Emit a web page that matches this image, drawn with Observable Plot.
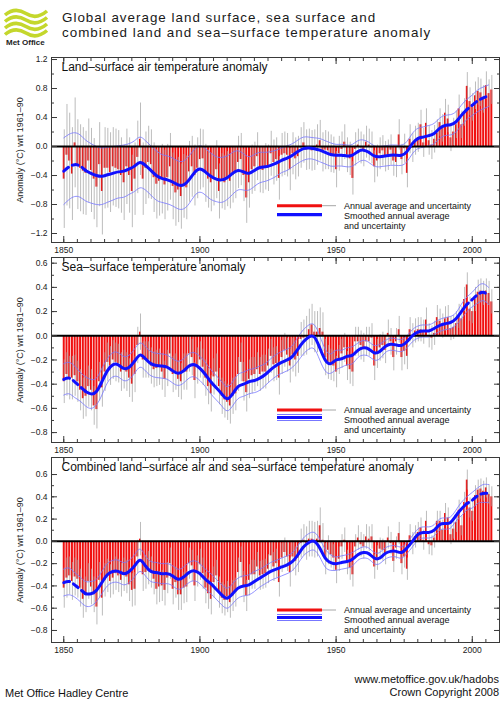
<!DOCTYPE html>
<html><head><meta charset="utf-8">
<script src="https://cdn.jsdelivr.net/npm/d3@7"></script>
<script src="https://cdn.jsdelivr.net/npm/@observablehq/plot@0.6"></script>
<style>
body{margin:0;background:#fff;font-family:"Liberation Sans",Arial,Helvetica,sans-serif;}
#page{position:relative;width:504px;height:708px;overflow:hidden;background:#fff;}
.abs{position:absolute;left:0;}
svg text{font-family:"Liberation Sans",Arial,Helvetica,sans-serif;}
</style></head>
<body><div id="page">
<svg class="abs" style="top:0" width="504" height="52">
  <g fill="none" stroke="#c4d72c" stroke-width="3.6" stroke-linecap="butt">
    <path d="M5,15 C12,9 19,9 26,13.5 S40,17 47,11"/>
    <path d="M5,21.5 C12,15.5 19,15.5 26,20 S40,23.5 47,17.5"/>
    <path d="M5,28 C12,22 19,22 26,26.5 S40,30 47,24"/>
    <path d="M5,34.5 C12,28.5 19,28.5 26,33 S40,36.5 47,30.5"/>
  </g>
  <text x="6" y="45" font-size="8" font-weight="bold" fill="#222">Met Office</text>
  <text x="62" y="22.2" font-size="13.4" letter-spacing="1" fill="#1a1a1a">Global average land surface, sea surface and</text>
  <text x="62" y="37.2" font-size="13.4" letter-spacing="1" fill="#1a1a1a">combined land and sea–surface temperature anomaly</text>
</svg>
<div class="abs" id="p1" style="top:55px"></div>
<div class="abs" id="p2" style="top:255px"></div>
<div class="abs" id="p3" style="top:455px"></div>
<svg class="abs" style="top:660px" width="504" height="48">
  <text x="499" y="23" font-size="11" text-anchor="end" fill="#111">www.metoffice.gov.uk/hadobs</text>
  <text x="499" y="36" font-size="11" text-anchor="end" fill="#111">Crown Copyright 2008</text>
  <text x="5" y="36.5" font-size="11" fill="#111">Met Office Hadley Centre</text>
</svg>
</div>
<script>
// ---------- categories ----------
const years = d3.range(1850, 2008);          // annual values 1850..2007
const smYears = d3.range(1850, 2007, 2);     // smoothed-curve knots 1850..2006
const xMajorTicks = [1850, 1900, 1950, 2000];
const xMinorTicks = [1850,1855,1860,1865,1870,1875,1880,1885,1890,1895,1900,1905,1910,1915,1920,1925,1930,1935,1940,1945,1950,1955,1960,1965,1970,1975,1980,1985,1990,1995,2000,2005];

// ---------- Land-surface air temperature ----------
const landAnom = [
 -0.45,-0.12,-0.20,-0.38,0.05,-0.25,-0.30,-0.34,-0.37,-0.20,
 -0.33,-0.45,-0.56,-0.25,-0.62,-0.30,-0.30,-0.36,-0.28,-0.30,
 -0.32,-0.40,-0.50,-0.28,-0.40,-0.62,-0.45,-0.15,0.10,-0.45,
 -0.30,-0.22,-0.25,-0.43,-0.52,-0.48,-0.45,-0.53,-0.43,-0.28,
 -0.55,-0.64,-0.60,-0.69,-0.55,-0.57,-0.35,-0.28,-0.40,-0.30,
 -0.18,-0.17,-0.37,-0.45,-0.50,-0.42,-0.32,-0.62,-0.48,-0.50,
 -0.45,-0.48,-0.40,-0.36,-0.22,-0.18,-0.40,-0.71,-0.50,-0.32,
 -0.28,-0.14,-0.32,-0.33,-0.28,-0.30,-0.10,-0.22,-0.18,-0.44,
 -0.12,-0.10,-0.12,-0.32,-0.10,-0.17,-0.14,-0.02,0.05,-0.05,
 -0.04,-0.06,-0.05,0.02,0.08,-0.08,-0.05,-0.06,-0.10,-0.12,
 -0.32,-0.10,-0.04,0.06,-0.12,-0.17,-0.44,-0.04,0.02,-0.02,
 -0.06,0.06,0.02,-0.02,-0.28,-0.20,-0.10,-0.06,-0.14,-0.12,
 -0.05,-0.20,-0.22,0.16,-0.18,-0.03,-0.37,0.10,-0.02,0.08,
 0.12,0.30,0.05,0.32,0.08,0.02,0.10,0.18,0.33,0.25,
 0.46,0.38,0.12,0.20,0.30,0.52,0.30,0.47,0.83,0.62,
 0.54,0.70,0.76,0.74,0.65,0.84,0.73,0.78];
const landUnc = [
 .68,.70,.66,.64,.62,.62,.60,.60,.58,.58,
 .58,.56,.56,.58,.60,.56,.55,.55,.54,.54,
 .54,.52,.52,.52,.52,.50,.50,.50,.50,.50,
 .50,.50,.48,.48,.48,.48,.48,.48,.46,.46,
 .46,.46,.45,.45,.44,.44,.42,.42,.42,.42,
 .42,.40,.40,.40,.40,.40,.40,.38,.38,.38,
 .38,.38,.38,.36,.36,.36,.36,.35,.35,.34,
 .34,.33,.32,.32,.32,.32,.31,.31,.30,.30,
 .30,.30,.30,.29,.29,.29,.28,.28,.28,.28,
 .28,.28,.28,.28,.28,.27,.27,.26,.26,.25,
 .25,.24,.24,.24,.24,.23,.23,.23,.22,.22,
 .22,.22,.22,.22,.22,.22,.22,.21,.21,.21,
 .21,.21,.21,.21,.21,.20,.20,.20,.20,.20,
 .20,.20,.20,.20,.20,.20,.19,.19,.19,.19,
 .19,.19,.19,.19,.19,.19,.19,.19,.19,.19,
 .19,.19,.19,.19,.19,.19,.19,.20];
const landSmooth = [
 -0.34,-0.28,-0.25,-0.27,-0.33,
 -0.37,-0.40,-0.41,-0.39,-0.37,-0.35,-0.34,-0.31,-0.27,-0.22,
 -0.26,-0.33,-0.40,-0.44,-0.46,-0.49,-0.53,-0.53,-0.46,-0.36,
 -0.31,-0.35,-0.41,-0.45,-0.46,-0.43,-0.37,-0.33,-0.35,-0.37,
 -0.33,-0.29,-0.28,-0.26,-0.23,-0.19,-0.16,-0.12,-0.07,-0.03,
 -0.02,-0.03,-0.05,-0.08,-0.11,-0.12,-0.12,-0.13,-0.12,-0.07,
 -0.05,-0.08,-0.13,-0.14,-0.13,-0.12,-0.12,-0.12,-0.07,0.04,
 0.11,0.13,0.15,0.18,0.25,0.29,0.30,0.34,0.43,0.51,
 0.57,0.63,0.67,0.70];
const landSmoothUnc = [
 .46,.45,.44,.43,.42,
 .41,.40,.39,.38,.37,.36,.36,.35,.35,.35,
 .34,.34,.34,.33,.33,.33,.33,.33,.33,.32,
 .32,.32,.32,.31,.31,.30,.29,.27,.25,.23,
 .22,.21,.20,.19,.18,.17,.17,.16,.16,.16,
 .15,.15,.16,.16,.16,.15,.15,.15,.15,.15,
 .14,.14,.14,.14,.14,.14,.14,.14,.14,.14,
 .14,.14,.14,.14,.14,.14,.14,.14,.14,.14,
 .14,.15,.15,.15];

// ---------- Sea-surface temperature ----------
const seaAnom = [
 -0.38,-0.32,-0.35,-0.35,-0.33,-0.38,-0.45,-0.52,-0.50,-0.42,
 -0.45,-0.58,-0.61,-0.38,-0.43,-0.30,-0.22,-0.25,-0.20,-0.22,
 -0.23,-0.30,-0.28,-0.30,-0.35,-0.40,-0.32,-0.08,0.03,-0.20,
 -0.20,-0.20,-0.25,-0.28,-0.27,-0.26,-0.30,-0.36,-0.27,-0.15,
 -0.32,-0.30,-0.36,-0.38,-0.30,-0.30,-0.15,-0.18,-0.37,-0.25,
 -0.20,-0.26,-0.35,-0.42,-0.48,-0.34,-0.30,-0.42,-0.50,-0.53,
 -0.55,-0.58,-0.50,-0.48,-0.32,-0.22,-0.38,-0.47,-0.36,-0.33,
 -0.32,-0.28,-0.32,-0.30,-0.30,-0.25,-0.17,-0.24,-0.23,-0.35,
 -0.18,-0.12,-0.16,-0.25,-0.16,-0.20,-0.17,-0.03,-0.02,0.00,
 0.05,0.09,0.03,0.03,0.06,0.03,-0.18,-0.22,-0.24,-0.25,
 -0.30,-0.20,-0.15,-0.10,-0.25,-0.28,-0.30,-0.05,-0.05,-0.08,
 -0.10,-0.05,-0.05,-0.02,-0.25,-0.15,-0.10,-0.08,-0.12,0.02,
 -0.05,-0.18,-0.05,0.05,-0.18,-0.13,-0.17,0.05,0.00,0.04,
 0.05,0.05,0.03,0.13,0.00,-0.02,0.02,0.15,0.12,0.08,
 0.14,0.15,0.06,0.07,0.10,0.16,0.14,0.30,0.42,0.22,
 0.20,0.30,0.36,0.37,0.35,0.37,0.35,0.28];
const seaUnc = [
 .18,.18,.18,.18,.17,.17,.17,.17,.17,.17,
 .17,.16,.16,.16,.16,.16,.16,.16,.16,.16,
 .16,.16,.16,.16,.16,.15,.15,.15,.15,.15,
 .15,.15,.15,.15,.15,.15,.15,.15,.15,.15,
 .15,.15,.15,.15,.15,.15,.15,.15,.15,.15,
 .15,.15,.15,.15,.15,.15,.15,.15,.15,.15,
 .15,.15,.15,.14,.14,.16,.16,.16,.16,.15,
 .14,.14,.14,.14,.14,.14,.14,.14,.14,.14,
 .14,.14,.14,.14,.14,.14,.14,.14,.15,.16,
 .17,.17,.17,.17,.17,.16,.15,.14,.13,.13,
 .13,.12,.12,.12,.12,.12,.12,.12,.12,.12,
 .12,.12,.12,.12,.12,.12,.11,.11,.11,.11,
 .11,.11,.11,.11,.11,.11,.11,.10,.10,.10,
 .10,.10,.10,.10,.10,.10,.10,.10,.10,.10,
 .10,.10,.10,.10,.10,.10,.10,.10,.10,.10,
 .10,.10,.10,.10,.10,.10,.10,.10];
const seaSmooth = [
 -0.36,-0.35,-0.38,-0.42,-0.46,
 -0.48,-0.46,-0.38,-0.29,-0.24,-0.24,-0.27,-0.26,-0.21,-0.16,
 -0.19,-0.23,-0.245,-0.25,-0.26,-0.29,-0.31,-0.29,-0.25,-0.24,
 -0.27,-0.32,-0.38,-0.43,-0.48,-0.52,-0.48,-0.42,-0.40,-0.38,
 -0.37,-0.35,-0.32,-0.28,-0.245,-0.22,-0.20,-0.17,-0.11,-0.05,
 -0.01,-0.01,-0.10,-0.20,-0.23,-0.20,-0.19,-0.17,-0.16,-0.12,
 -0.10,-0.11,-0.14,-0.13,-0.09,-0.07,-0.075,-0.08,-0.05,0.00,
 0.03,0.04,0.04,0.06,0.085,0.10,0.11,0.14,0.20,0.26,
 0.30,0.34,0.36,0.33];
const seaSmoothUnc = [
 .13,.13,.13,.12,.12,
 .12,.11,.11,.10,.10,.10,.10,.10,.10,.10,
 .10,.10,.10,.10,.10,.10,.10,.10,.10,.10,
 .10,.10,.10,.10,.10,.10,.10,.10,.10,.10,
 .10,.10,.09,.09,.09,.09,.09,.09,.10,.10,
 .10,.10,.10,.09,.08,.08,.07,.07,.07,.06,
 .06,.06,.06,.06,.05,.05,.05,.05,.05,.05,
 .05,.05,.05,.05,.05,.05,.05,.05,.06,.06,
 .06,.07,.07,.07];

// ---------- Combined land and sea ----------
const combAnom = [
 -0.42,-0.33,-0.31,-0.36,-0.32,-0.34,-0.42,-0.52,-0.48,-0.36,
 -0.41,-0.48,-0.59,-0.35,-0.51,-0.35,-0.31,-0.36,-0.33,-0.29,
 -0.31,-0.35,-0.30,-0.32,-0.39,-0.44,-0.43,-0.14,0.02,-0.30,
 -0.28,-0.24,-0.28,-0.34,-0.43,-0.41,-0.40,-0.44,-0.33,-0.20,
 -0.43,-0.37,-0.48,-0.48,-0.42,-0.41,-0.20,-0.22,-0.40,-0.27,
 -0.21,-0.29,-0.42,-0.47,-0.52,-0.37,-0.31,-0.46,-0.51,-0.53,
 -0.50,-0.55,-0.49,-0.46,-0.28,-0.19,-0.41,-0.49,-0.35,-0.30,
 -0.30,-0.23,-0.31,-0.30,-0.29,-0.25,-0.13,-0.23,-0.20,-0.37,
 -0.15,-0.10,-0.14,-0.28,-0.14,-0.18,-0.15,-0.02,0.01,-0.02,
 0.02,0.02,0.01,0.02,0.14,0.01,-0.16,-0.08,-0.12,-0.15,
 -0.26,-0.16,-0.05,0.01,-0.19,-0.24,-0.30,-0.05,0.03,-0.03,
 -0.05,0.04,0.02,0.04,-0.23,-0.15,-0.07,-0.08,-0.11,0.03,
 -0.02,-0.18,-0.06,0.07,-0.20,-0.14,-0.25,0.05,-0.02,0.04,
 0.08,0.12,0.01,0.18,-0.03,-0.04,0.03,0.18,0.18,0.10,
 0.25,0.21,0.06,0.11,0.17,0.28,0.14,0.35,0.55,0.30,
 0.27,0.41,0.46,0.47,0.45,0.48,0.42,0.40];
const combUnc = [
 .18,.18,.17,.17,.17,.17,.17,.17,.16,.16,
 .16,.16,.16,.16,.16,.15,.15,.15,.15,.15,
 .15,.15,.15,.15,.15,.15,.15,.15,.15,.15,
 .15,.15,.14,.14,.14,.14,.14,.14,.14,.14,
 .14,.14,.14,.14,.14,.14,.14,.14,.14,.14,
 .14,.14,.14,.14,.14,.14,.14,.14,.14,.14,
 .14,.14,.14,.13,.13,.14,.14,.14,.14,.13,
 .13,.13,.13,.13,.13,.13,.13,.13,.13,.13,
 .13,.13,.13,.13,.13,.13,.13,.13,.14,.15,
 .16,.16,.16,.16,.16,.15,.14,.13,.12,.12,
 .12,.11,.11,.11,.11,.11,.11,.11,.11,.11,
 .11,.11,.11,.11,.11,.11,.10,.10,.10,.10,
 .10,.10,.10,.10,.10,.10,.10,.10,.10,.10,
 .09,.09,.09,.09,.09,.09,.09,.09,.09,.09,
 .09,.09,.09,.09,.09,.09,.09,.09,.09,.09,
 .09,.09,.09,.09,.09,.09,.09,.09];
const combSmooth = [
 -0.37,-0.36,-0.39,-0.43,-0.47,
 -0.47,-0.44,-0.37,-0.30,-0.27,-0.27,-0.29,-0.27,-0.22,-0.17,
 -0.22,-0.27,-0.28,-0.29,-0.29,-0.31,-0.34,-0.32,-0.28,-0.265,
 -0.29,-0.34,-0.38,-0.43,-0.48,-0.51,-0.47,-0.42,-0.40,-0.39,
 -0.36,-0.33,-0.30,-0.27,-0.25,-0.23,-0.21,-0.18,-0.12,-0.05,
 -0.01,0.00,-0.06,-0.15,-0.19,-0.20,-0.19,-0.18,-0.16,-0.12,
 -0.10,-0.11,-0.15,-0.15,-0.11,-0.09,-0.09,-0.10,-0.06,0.00,
 0.06,0.08,0.08,0.10,0.15,0.16,0.17,0.23,0.29,0.34,
 0.37,0.41,0.43,0.43];
const combSmoothUnc = [
 .12,.12,.11,.11,.11,
 .11,.10,.10,.10,.10,.10,.10,.10,.10,.10,
 .09,.09,.09,.09,.09,.09,.09,.09,.09,.09,
 .09,.09,.09,.09,.09,.09,.09,.09,.09,.09,
 .09,.08,.08,.08,.08,.08,.08,.08,.08,.08,
 .08,.08,.08,.08,.07,.06,.06,.06,.06,.05,
 .05,.05,.05,.05,.05,.05,.05,.05,.05,.05,
 .05,.05,.05,.05,.05,.05,.05,.05,.06,.06,
 .07,.07,.08,.08];

// ---------- y tick lists ----------
const landYTicks = [-1.2,-0.8,-0.4,0,0.4,0.8,1.2];
const landYMinor = [-1.2,-1.0,-0.8,-0.6,-0.4,-0.2,0,0.2,0.4,0.6,0.8,1.0,1.2];
const seaYTicks = [-0.8,-0.6,-0.4,-0.2,0,0.2,0.4,0.6];
const seaYMinor = [-0.8,-0.7,-0.6,-0.5,-0.4,-0.3,-0.2,-0.1,0,0.1,0.2,0.3,0.4,0.5,0.6];

const titles = ["Land–surface air temperature anomaly",
                "Sea–surface temperature anomaly",
                "Combined land–surface air and sea–surface temperature anomaly"];
const yLabel = "Anomaly (°C) wrt 1961–90";

const RED = "#f01010", BLUE = "#1010ff", BAND = "#7777ff", GREY = "#a6a6a6", AX = "#3a3a3a";
const FONT = "Liberation Sans, Arial, Helvetica, sans-serif";

function panel(anom, unc, sm, smUnc, domain, yMajor, yMinor, title) {
  const rows = years.map((year, i) => ({year, v: anom[i], e: unc[i]}));
  const srows = smYears.map((year, i) => ({year, v: sm[i], e: smUnc[i]}));
  const seg1 = srows.filter(d => d.year <= 1858);
  const seg2 = srows.filter(d => d.year >= 1858 && d.year <= 1998);
  const seg3 = srows.filter(d => d.year >= 1998);
  const blank = () => "";
  return Plot.plot({
    width: 504, height: 200,
    marginLeft: 51, marginRight: 5, marginTop: 2, marginBottom: 13,
    style: {fontFamily: FONT, fontSize: "8.5px", color: "#1a1a1a", background: "transparent", overflow: "visible"},
    x: {domain: [1845.5, 2010], label: null},
    y: {domain, label: null},
    marks: [
      Plot.ruleX(rows, {x: "year", y1: 0, y2: "v", stroke: RED, strokeWidth: 2}),
      Plot.ruleX(rows, {x: "year", y1: d => d.v - d.e, y2: d => d.v + d.e, stroke: GREY, strokeWidth: 0.75, dx: 0.5}),
      Plot.line(srows, {x: "year", y: d => d.v + d.e, curve: "natural", stroke: BAND, strokeWidth: 0.8}),
      Plot.line(srows, {x: "year", y: d => d.v - d.e, curve: "natural", stroke: BAND, strokeWidth: 0.8}),
      Plot.ruleY([0], {stroke: "#000", strokeWidth: 2}),
      Plot.line(seg1, {x: "year", y: "v", curve: "natural", stroke: BLUE, strokeWidth: 3, strokeDasharray: "6,4.5"}),
      Plot.line(seg2, {x: "year", y: "v", curve: "natural", stroke: BLUE, strokeWidth: 3}),
      Plot.line(seg3, {x: "year", y: "v", curve: "natural", stroke: BLUE, strokeWidth: 3, strokeDasharray: "6,4.5", strokeDashoffset: 4}),
      Plot.frame({stroke: AX, strokeWidth: 1}),
      Plot.axisX({anchor: "bottom", ticks: xMinorTicks, tickSize: -3, tickFormat: blank, label: null, stroke: AX}),
      Plot.axisX({anchor: "bottom", ticks: xMajorTicks, tickSize: -6, tickFormat: blank, label: null, stroke: AX}),
      Plot.axisX({anchor: "top", ticks: xMinorTicks, tickSize: -3, tickFormat: blank, label: null, stroke: AX}),
      Plot.axisX({anchor: "top", ticks: xMajorTicks, tickSize: -6, tickFormat: blank, label: null, stroke: AX}),
      Plot.axisX({anchor: "bottom", ticks: xMajorTicks, tickSize: 0, tickPadding: 4, tickFormat: d => String(d), label: null, fill: "#1a1a1a"}),
      Plot.axisY({anchor: "left", ticks: yMinor, tickSize: -3, tickFormat: blank, label: null, stroke: AX}),
      Plot.axisY({anchor: "left", ticks: yMajor, tickSize: -6, tickFormat: blank, label: null, stroke: AX}),
      Plot.axisY({anchor: "right", ticks: yMinor, tickSize: -3, tickFormat: blank, label: null, stroke: AX}),
      Plot.axisY({anchor: "right", ticks: yMajor, tickSize: -6, tickFormat: blank, label: null, stroke: AX}),
      Plot.axisY({anchor: "left", ticks: yMajor, tickSize: 0, tickPadding: 4, tickFormat: d3.format(".1f"), label: null, fill: "#1a1a1a"}),
      Plot.text([title], {frameAnchor: "top-left", dx: 10, dy: 9.7, lineAnchor: "middle", textAnchor: "start", fontSize: 12, fill: "#111"}),
      Plot.text([yLabel], {frameAnchor: "left", dx: -31, rotate: -90, textAnchor: "middle", lineAnchor: "middle", fontSize: 9, fill: "#1a1a1a"})
    ]
  });
}

function legend(frameTop, withBand, rel) {
  const ns = "http://www.w3.org/2000/svg";
  const svg = document.createElementNS(ns, "svg");
  svg.setAttribute("width", 504); svg.setAttribute("height", 200);
  svg.setAttribute("class", "abs");
  svg.style.top = frameTop + "px";
  const add = (tag, attrs, text) => {
    const el = document.createElementNS(ns, tag);
    for (const k in attrs) el.setAttribute(k, attrs[k]);
    if (text) el.textContent = text;
    svg.appendChild(el); return el;
  };
  add("line", {x1: 322, x2: 336, y1: rel.red, y2: rel.red, stroke: GREY, "stroke-width": 1});
  add("line", {x1: 277, x2: 322, y1: rel.red, y2: rel.red, stroke: RED, "stroke-width": 3});
  if (withBand) {
    add("line", {x1: 277, x2: 322, y1: rel.blue - 3, y2: rel.blue - 3, stroke: BAND, "stroke-width": 1});
    add("line", {x1: 277, x2: 322, y1: rel.blue + 3, y2: rel.blue + 3, stroke: BAND, "stroke-width": 1});
  }
  add("line", {x1: 277, x2: 322, y1: rel.blue, y2: rel.blue, stroke: BLUE, "stroke-width": 3.2});
  const t = {x: 344, "font-size": 9, fill: "#111"};
  add("text", {...t, y: rel.t1}, "Annual average and uncertainty");
  add("text", {...t, y: rel.t2}, "Smoothed annual average");
  add("text", {...t, y: rel.t3}, "and uncertainty");
  document.getElementById("page").appendChild(svg);
}

document.getElementById("p1").appendChild(
  panel(landAnom, landUnc, landSmooth, landSmoothUnc, [-1.324, 1.228], landYTicks, landYMinor, titles[0]));
document.getElementById("p2").appendChild(
  panel(seaAnom, seaUnc, seaSmooth, seaSmoothUnc, [-0.882, 0.647], seaYTicks, seaYMinor, titles[1]));
document.getElementById("p3").appendChild(
  panel(combAnom, combUnc, combSmooth, combSmoothUnc, [-0.908, 0.753], seaYTicks, seaYMinor, titles[2]));

legend(57, false, {red: 148.7, blue: 157.7, t1: 152, t2: 162, t3: 172});
legend(257, true, {red: 153, blue: 160.5, t1: 156, t2: 166, t3: 176});
legend(457, true, {red: 153, blue: 160.5, t1: 156, t2: 166, t3: 176});
</script>
</body></html>
